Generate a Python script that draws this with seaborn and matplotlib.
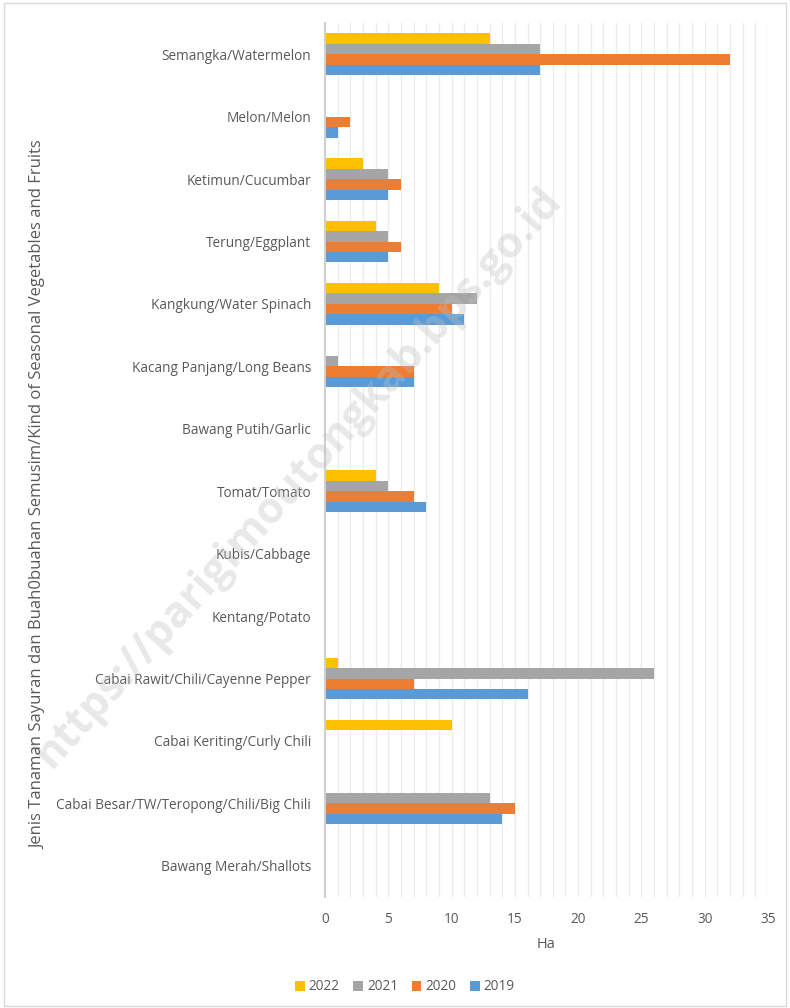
import matplotlib
matplotlib.use("Agg")
import matplotlib.pyplot as plt
import seaborn as sns
import pandas as pd
from matplotlib.patches import Rectangle

categories = [
    "Semangka/Watermelon",
    "Melon/Melon",
    "Ketimun/Cucumbar",
    "Terung/Eggplant",
    "Kangkung/Water Spinach",
    "Kacang Panjang/Long Beans",
    "Bawang Putih/Garlic",
    "Tomat/Tomato",
    "Kubis/Cabbage",
    "Kentang/Potato",
    "Cabai Rawit/Chili/Cayenne Pepper",
    "Cabai Keriting/Curly Chili",
    "Cabai Besar/TW/Teropong/Chili/Big Chili",
    "Bawang Merah/Shallots",
]
years = ["2022", "2021", "2020", "2019"]
v2022 = [13, 0, 3, 4, 9, 0, 0, 4, 0, 0, 1, 10, 0, 0]
v2021 = [17, 0, 5, 5, 12, 1, 0, 5, 0, 0, 26, 0, 13, 0]
v2020 = [32, 2, 6, 6, 10, 7, 0, 7, 0, 0, 7, 0, 15, 0]
v2019 = [17, 1, 5, 5, 11, 7, 0, 8, 0, 0, 16, 0, 14, 0]
colors = ["#FFC000", "#A5A5A5", "#ED7D31", "#5B9BD5"]

rows = []
for yr, vals in zip(years, [v2022, v2021, v2020, v2019]):
    for c, v in zip(categories, vals):
        rows.append({"cat": c, "year": yr, "val": v})
df = pd.DataFrame(rows)

sns.set_style("white")
plt.rcParams["font.family"] = ["Open Sans", "DejaVu Sans"]

fig = plt.figure(figsize=(7.9, 10.08), dpi=100)
ax = fig.add_axes([325 / 790, 1 - 897 / 1008, (768 - 325) / 790, (897 - 23) / 1008])

sns.barplot(data=df, y="cat", x="val", hue="year", order=categories,
            hue_order=years, palette=colors, orient="h", width=0.67,
            linewidth=0, saturation=1, ax=ax, legend=True)

ax.set_xlim(0, 35)
ax.set_ylim(len(categories) - 0.5, -0.5)
ax.set_xticks(range(0, 36, 5))
ax.set_xticks(range(0, 36, 1), minor=True)
ax.grid(True, which="both", axis="x", color="#ececec", linewidth=1)
ax.set_axisbelow(True)
for s in ["top", "right", "bottom"]:
    ax.spines[s].set_visible(False)
ax.spines["left"].set_color("#d0d0d0")
ax.spines["left"].set_linewidth(1.5)
ax.tick_params(axis="both", which="both", length=0, colors="#595959", labelsize=9.8)
ax.tick_params(axis="x", pad=11)
ax.tick_params(axis="y", pad=10)
ax.set_ylabel("")
ax.set_xlabel("Ha", color="#595959", fontsize=10.5, labelpad=7)

fig.text(38 / 790, 1 - 495 / 1008,
         "Jenis Tanaman Sayuran dan Buah0buahan Semusim/Kind of Seasonal Vegetables and Fruits",
         rotation=90, ha="center", va="center", color="#595959", fontsize=12)

handles, labels = ax.get_legend_handles_labels()
ax.legend_.remove()
fig.legend(handles, labels, loc="center", bbox_to_anchor=(405 / 790, 1 - 987 / 1008),
           ncol=4, frameon=False, fontsize=9.8, handlelength=0.7, handleheight=0.7,
           handletextpad=0.3, columnspacing=1.0, labelcolor="#595959")

fig.text(298 / 790, 1 - 478 / 1008, "https://parigimoutongkab.bps.go.id",
         rotation=48, ha="center", va="center", fontsize=31, fontweight="bold",
         color="#bfbfbf", alpha=0.35, zorder=0)

fig.patches.append(Rectangle((4 / 790, 2 / 1008), 782 / 790, 1003 / 1008,
                             transform=fig.transFigure, fill=False,
                             edgecolor="#d9d9d9", linewidth=1))

fig.savefig("out.png", dpi=100)
